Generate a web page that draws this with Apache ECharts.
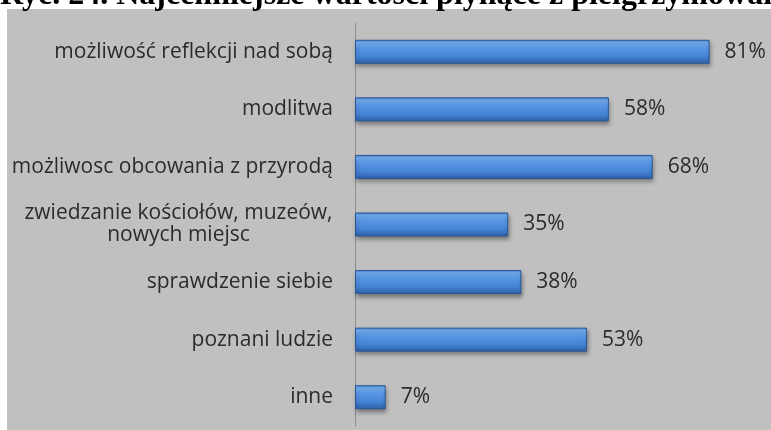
<!DOCTYPE html>
<html><head><meta charset="utf-8">
<script src="https://cdn.jsdelivr.net/npm/echarts@6/dist/echarts.min.js"></script>
<style>html,body{margin:0;padding:0;background:#fff}#c{width:771px;height:430px}</style>
</head><body><div id="c"></div>
<script>
var titleText = 'Ryc. 24. Najcenniejsze wartości płynące z pielgrzymowania';
var categories = [
  'możliwość reflekcji nad sobą',
  'modlitwa',
  'możliwosc obcowania z przyrodą',
  'zwiedzanie kościołów, muzeów,\nnowych miejsc',
  'sprawdzenie siebie',
  'poznani ludzie',
  'inne'
];
var values = [81, 58, 68, 35, 38, 53, 7];

var LABEL_FONT = '21px "Open Sans"';
function measure(t){
  var c = document.createElement('canvas').getContext('2d');
  c.font = LABEL_FONT; return c.measureText(t).width;
}

var chart = echarts.init(document.getElementById('c'));
chart.setOption({
  backgroundColor: '#ffffff',
  animation: false,
  graphic: [
    {type:'rect', shape:{x:7,y:9,width:764,height:421}, style:{fill:'#c0c0c0'}, z:-10},
    {type:'text', x:0, y:-4, style:{text:titleText, font:'bold 32px "Liberation Serif"', fill:'#000', verticalAlign:'middle'}, z:10}
  ],
  grid: {left:355, right:22, top:23, bottom:4},
  xAxis: {type:'value', min:0, max:90, show:false},
  yAxis: {
    type:'category', inverse:true, data:categories,
    axisLine:{show:true, lineStyle:{color:'#8c8c8c', width:1}},
    axisTick:{show:false},
    axisLabel:{
      margin:22, color:'#2b2b2b', fontFamily:'Open Sans', fontSize:21, lineHeight:22,
      formatter:function(v){
        if (v.indexOf('\n') < 0) return v;
        return v.split('\n').map(function(p){return '{c|'+p+'}';}).join('\n');
      },
      rich:{c:{width:0, align:'center', fontFamily:'Open Sans', fontSize:21, color:'#2b2b2b', lineHeight:22}}
    }
  },
  series: [{
    type:'bar', data:values, barWidth:24,
    itemStyle:{
      color:{type:'linear',x:0,y:0,x2:0,y2:1,colorStops:[
        {offset:0,color:'#4a82d0'},{offset:0.12,color:'#74b0f4'},{offset:0.35,color:'#5896e4'},
        {offset:0.7,color:'#4583d4'},{offset:1,color:'#2d60a6'}]},
      borderColor:'#2a5896', borderWidth:1,
      shadowColor:'rgba(0,0,0,0.35)', shadowBlur:4, shadowOffsetY:3, shadowOffsetX:1
    },
    label:{show:true, position:'right', distance:15, formatter:'{c}%', color:'#2b2b2b', fontFamily:'Open Sans', fontSize:21}
  }]
});
var w0 = Math.ceil(measure('zwiedzanie kościołów, muzeów,'));
chart.setOption({yAxis:{axisLabel:{rich:{c:{width:w0, align:'center'}}}}});
</script></body></html>
